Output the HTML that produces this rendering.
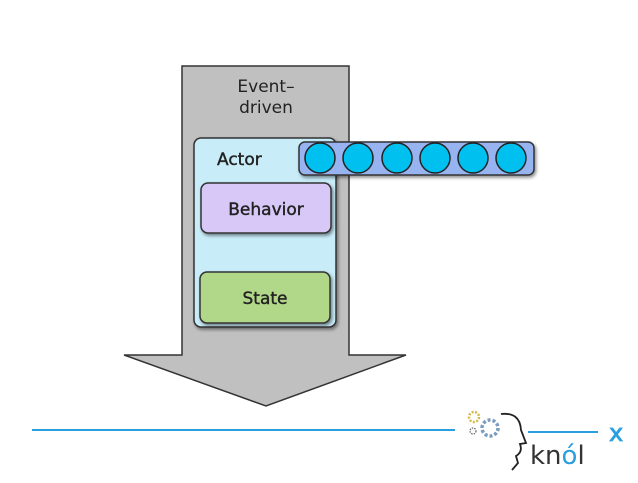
<!DOCTYPE html>
<html><head><style>
body{margin:0;width:638px;height:479px;background:#fff;overflow:hidden;font-family:"DejaVu Sans","Liberation Sans",sans-serif}
</style></head><body>
<svg width="638" height="479" viewBox="0 0 638 479" xmlns="http://www.w3.org/2000/svg">
<defs><filter id="s" x="-10%" y="-10%" width="130%" height="130%"><feDropShadow dx="1.5" dy="2" stdDeviation="1.5" flood-opacity="0.45"/></filter></defs>
<polygon points="182,66 349,66 349,355 406,355 266,406 124,355 182,355" fill="#c0c0c0" stroke="#333" stroke-width="1.5"/>
<text x="266" y="92" font-size="17" text-anchor="middle" fill="#222">Event–</text>
<text x="266" y="113" font-size="17" text-anchor="middle" fill="#222">driven</text>
<rect x="194" y="138" width="142" height="189" rx="7" fill="#c8ecf8" stroke="#333" stroke-width="1.5" filter="url(#s)"/>
<text x="217" y="165" font-size="17" fill="#222" stroke="#222" stroke-width="0.4">Actor</text>
<rect x="201" y="183" width="130" height="50" rx="7" fill="#d8c8f8" stroke="#333" stroke-width="1.5" filter="url(#s)"/>
<text x="266" y="215" font-size="17" text-anchor="middle" fill="#222" stroke="#222" stroke-width="0.4">Behavior</text>
<rect x="200" y="272" width="130" height="51" rx="7" fill="#b0d888" stroke="#333" stroke-width="1.5" filter="url(#s)"/>
<text x="265" y="304" font-size="17" text-anchor="middle" fill="#222" stroke="#222" stroke-width="0.4">State</text>
<rect x="299" y="142" width="235" height="33" rx="6" fill="#98b4f0" stroke="#333" stroke-width="1.5" filter="url(#s)"/>
<g fill="#00c0f0" stroke="#222" stroke-width="1.5">
<circle cx="320" cy="158" r="15"/><circle cx="358" cy="158" r="15"/><circle cx="397" cy="158" r="15"/><circle cx="435" cy="158" r="15"/><circle cx="473" cy="158" r="15"/><circle cx="511" cy="158" r="15"/>
</g>
<line x1="32" y1="430" x2="455" y2="430" stroke="#2a9fe0" stroke-width="2"/>
<line x1="528" y1="432" x2="598" y2="432" stroke="#2a9fe0" stroke-width="2"/>
<circle cx="474" cy="417" r="5" fill="none" stroke="#d4b84a" stroke-width="2.5" stroke-dasharray="2 1.5"/>
<circle cx="473" cy="431" r="3" fill="none" stroke="#666" stroke-width="1.2" stroke-dasharray="1.5 1"/>
<circle cx="490" cy="428" r="8" fill="none" stroke="#7a9cc0" stroke-width="3.5" stroke-dasharray="3 2"/>
<path d="M501,414 Q520,412 521,430 L526,443 L520,444 Q523,452 516,456 L518,463 L512,470" fill="none" stroke="#222" stroke-width="1.8"/>
<text x="530" y="464" font-size="26" fill="#333">kn<tspan fill="#2a9fe0">ó</tspan>l</text>
<text x="609" y="441" font-size="24" fill="#2a9fe0" stroke="#2a9fe0" stroke-width="0.8">x</text>
</svg>
</body></html>
